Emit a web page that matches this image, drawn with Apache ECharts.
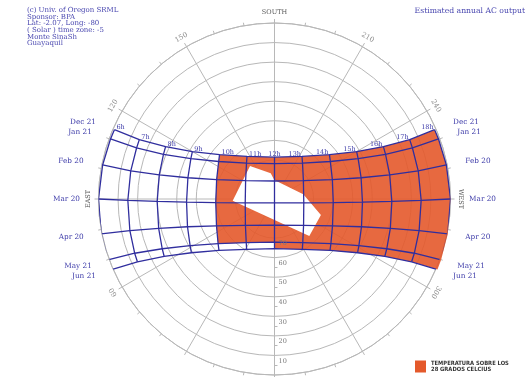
<!DOCTYPE html>
<html>
<head>
<meta charset="utf-8">
<script src="https://cdn.jsdelivr.net/npm/echarts@6/dist/echarts.min.js"></script>
<style>
html, body { margin: 0; padding: 0; background: #fff; }
#content { width: 530px; height: 377px; }
</style>
</head>
<body>
<div id="content"></div>
<script>
// hour lines 6h..18h, solar time
var hours = ['6h','7h','8h','9h','10h','11h','12h','13h','14h','15h','16h','17h','18h'];
var dates = ['Dec 21','Jan 21','Feb 20','Mar 20','Apr 20','May 21','Jun 21'];

// sun position per date: zenith distance (90 - altitude) and azimuth (from north, clockwise)
var zenDec21 = [89.2, 75.5, 61.8, 48.5, 36.1, 25.9, 21.4, 25.9, 36.1, 48.5, 61.8, 75.5, 89.2];
var aziDec21 = [113.4, 113.7, 115.7, 120.0, 128.9, 147.1, 180, 212.9, 231.1, 240.0, 244.3, 246.3, 246.6];
var zenJan21 = [89.3, 75.2, 61.2, 47.5, 34.4, 23.3, 18.1, 23.3, 34.4, 47.5, 61.2, 75.2, 89.3];
var aziJan21 = [110.1, 110.3, 111.9, 115.8, 123.9, 142.1, 180, 217.9, 236.1, 244.2, 248.1, 249.7, 249.9];
var zenFeb20 = [89.6, 74.9, 60.2, 45.6, 31.2, 17.5, 9.2, 17.5, 31.2, 45.6, 60.2, 74.9, 89.6];
var aziFeb20 = [101.2, 101.1, 101.8, 103.8, 108.5, 122.4, 180, 237.6, 251.5, 256.2, 258.2, 258.9, 258.8];
var zenMar20 = [90, 75.0, 60.0, 45.0, 30.1, 15.1, 2.0, 15.1, 30.1, 45.0, 60.0, 75.0, 90];
var aziMar20 = [90, 89.5, 88.8, 88.0, 86.5, 82.6, 0, 277.4, 273.5, 272.0, 271.2, 270.5, 270];
var zenApr20 = [90.4, 75.7, 61.1, 46.7, 32.7, 20.1, 13.4, 20.1, 32.7, 46.7, 61.1, 75.7, 90.4];
var aziApr20 = [78.6, 77.7, 75.8, 72.3, 65.1, 47.7, 0, 312.3, 294.9, 287.7, 284.2, 282.3, 281.4];
var zenMay21 = [90.7, 76.7, 62.8, 49.3, 36.8, 26.6, 22.1, 26.6, 36.8, 49.3, 62.8, 76.7, 90.7];
var aziMay21 = [69.9, 68.8, 66.1, 61.1, 51.6, 32.9, 0, 327.1, 308.4, 298.9, 293.9, 291.2, 290.1];
var zenJun21 = [90.8, 77.1, 63.6, 50.6, 38.7, 29.4, 25.4, 29.4, 38.7, 50.6, 63.6, 77.1, 90.8];
var aziJun21 = [66.6, 65.4, 62.5, 57.1, 47.2, 29.0, 0, 331.0, 312.8, 302.9, 297.5, 294.6, 293.4];

// white shape (zenith, azimuth)
var shadeZen = [21.0, 13.3, 9.7, 14.9, 25.1, 26.0, 21.4];
var shadeAzi = [143.4, 171.6, 179.4, 260.7, 289.0, 316.8, 87.7];

var altTicks = [10, 20, 30, 40, 50, 60, 70];
var aziTicks = [60, 120, 150, 210, 240, 300];
var compass = ['EAST', 'SOUTH', 'WEST'];
var compassAzi = [90, 180, 270];

var infoLines = ['(c) Univ. of Oregon SRML', 'Sponsor: BPA', 'Lat: -2.07, Long: -80',
    '( Solar ) time zone: -5', 'Monte SinaSh', 'Guayaquil'];
var legendName = 'TEMPERATURA SOBRE LOS\n28 GRADOS CELCIUS';

var BLUE = '#302e9e';
var TXT = '#3c3aa8';
var GRID = '#b8b8b8';
var ORANGE = '#e4592b';
var SERIF = '"DejaVu Serif", serif';

var zen = [zenDec21, zenJan21, zenFeb20, zenMar20, zenApr20, zenMay21, zenJun21];
var azi = [aziDec21, aziJan21, aziFeb20, aziMar20, aziApr20, aziMay21, aziJun21];
function pt(d, h) { return [zen[d][h], azi[d][h]]; }

// hot zone: 10h-18h, Dec 21 to Jun 21 (May 21 before noon)
var hotZone = [];
var h, d;
for (h = 4; h <= 12; h++) hotZone.push(pt(0, h));
for (d = 1; d <= 6; d++) hotZone.push(pt(d, 12));
for (h = 11; h >= 6; h--) hotZone.push(pt(6, h));
for (h = 6; h >= 4; h--) hotZone.push(pt(5, h));
for (d = 4; d >= 1; d--) hotZone.push(pt(d, 4));

var shade = shadeZen.map(function (z, i) { return [z, shadeAzi[i]]; });

function polygonSeries(points, fill, opacity, z, name) {
    return {
        type: 'custom', name: name, coordinateSystem: 'polar', silent: true, z: z,
        itemStyle: {color: fill},
        data: [[0, 0]],
        renderItem: function (params, api) {
            return {
                type: 'polygon',
                shape: {points: points.map(function (p) { return api.coord(p); })},
                style: {fill: fill, opacity: opacity}
            };
        }
    };
}

function textSeries(items, font, color) {
    return {
        type: 'custom', coordinateSystem: 'polar', silent: true, z: 8,
        data: items.map(function (it) { return it.pos; }),
        renderItem: function (params, api) {
            var it = items[params.dataIndex];
            var p = api.coord([api.value(0), api.value(1)]);
            return {
                type: 'text',
                x: p[0] + (it.dx || 0),
                y: p[1] + (it.dy || 0),
                rotation: (it.rot || 0) * Math.PI / 180,
                style: {
                    text: it.text, fill: color, font: font,
                    align: it.align || 'center', verticalAlign: it.va || 'middle'
                }
            };
        }
    };
}

var series = [];
series.push(polygonSeries(hotZone, ORANGE, 0.9, 2, legendName));
series.push(polygonSeries(shade, '#ffffff', 1, 3, 'shade'));

dates.forEach(function (name, d) {
    series.push({
        type: 'line', coordinateSystem: 'polar', symbol: 'none', clip: false, silent: true, z: 5,
        lineStyle: {color: BLUE, width: 1.3},
        data: zen[d].map(function (z, i) { return [z, azi[d][i]]; })
    });
});
hours.forEach(function (name, i) {
    series.push({
        type: 'line', coordinateSystem: 'polar', symbol: 'none', clip: false, silent: true, z: 5,
        lineStyle: {color: BLUE, width: 1.3},
        data: dates.map(function (n, d) { return pt(d, i); })
    });
});

// hour labels along Dec 21
series.push(textSeries(hours.map(function (name, i) {
    return {
        text: name, pos: pt(0, i), va: 'bottom', dy: 1,
        align: i < 6 ? 'left' : (i > 6 ? 'right' : 'center'),
        dx: i < 6 ? 2 : (i > 6 ? -1 : 0)
    };
}), '6.5px ' + SERIF, TXT));

// date labels at both ends
var dateItems = [];
dates.forEach(function (name, d) {
    dateItems.push({text: name, pos: [99.5, azi[d][0]], align: 'right'});
    dateItems.push({text: name, pos: [99.5, azi[d][12]], align: 'left'});
});
series.push(textSeries(dateItems, '7.3px ' + SERIF, TXT));

// altitude labels on the north radius
series.push(textSeries(altTicks.map(function (a) {
    return {text: String(a), pos: [90 - a, 0], align: 'left', dx: 4, dy: 5.5};
}), '6.5px ' + SERIF, '#777'));

// azimuth labels
series.push(textSeries(aziTicks.map(function (a) {
    return {text: String(a), pos: [95.3, a], rot: 180 - a};
}), '7px ' + SERIF, '#8a8a8a'));

series.push(textSeries(compass.map(function (c, i) {
    return {text: c, pos: [95.3, compassAzi[i]], rot: 180 - compassAzi[i]};
}), '6.5px ' + SERIF, '#555'));

var myChart = echarts.init(document.getElementById('content'));
myChart.setOption({
    animation: false,
    backgroundColor: '#fff',
    title: [
        {
            text: infoLines.join('\n'), left: 27, top: 7, padding: 0,
            textStyle: {fontFamily: SERIF, fontSize: 7, lineHeight: 6.6, fontWeight: 'normal', color: '#4a48b0'}
        },
        {
            text: 'Estimated annual AC output', right: 5, top: 7, padding: 0,
            textStyle: {fontFamily: SERIF, fontSize: 7.7, fontWeight: 'normal', color: '#4a48b0'}
        }
    ],
    legend: {
        left: 415, top: 360, padding: 0, itemGap: 0, itemWidth: 11, itemHeight: 12,
        icon: 'rect', selectedMode: false,
        data: [legendName],
        textStyle: {
            fontFamily: '"DejaVu Sans Condensed", "Liberation Sans Narrow", sans-serif',
            fontWeight: 'bold', fontSize: 5.8, lineHeight: 6.5, color: '#333'
        }
    },
    polar: {center: [274.5, 199], radius: 176},
    angleAxis: {
        type: 'value', min: 0, max: 360, interval: 30, startAngle: 270, clockwise: true,
        axisLine: {lineStyle: {color: GRID, width: 1}},
        axisTick: {show: true, length: 4, lineStyle: {color: GRID}},
        minorTick: {show: true, splitNumber: 3, length: 3, lineStyle: {color: GRID}},
        axisLabel: {show: false},
        splitLine: {show: true, lineStyle: {color: GRID, width: 1}}
    },
    radiusAxis: {
        type: 'value', min: 0, max: 90, interval: 10,
        axisLine: {show: true, lineStyle: {color: GRID}},
        axisTick: {show: false},
        minorTick: {show: true, splitNumber: 2, length: 3, lineStyle: {color: GRID}},
        axisLabel: {show: false},
        splitLine: {show: true, lineStyle: {color: GRID, width: 1}}
    },
    series: series
});
</script>
</body>
</html>
